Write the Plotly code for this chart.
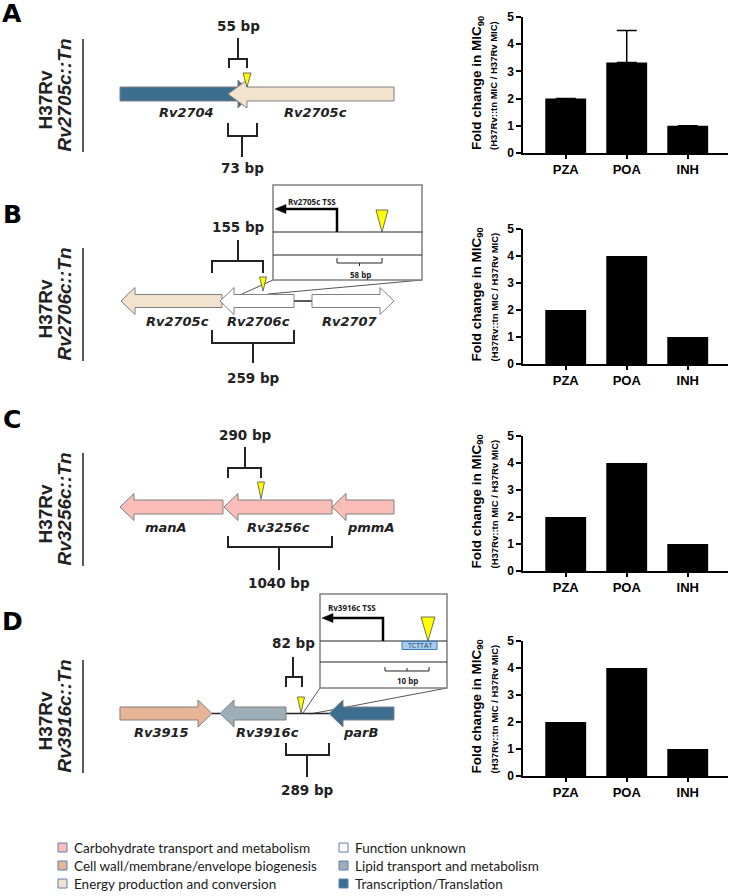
import plotly.graph_objects as go

W, H = 740, 896

# ---------------- data ----------------
drugs = ["PZA", "POA", "INH"]
fold_A = [2, 3.33, 1]
fold_A_err_plus = [None, 1.17, None]
fold_B = [2, 4, 1]
fold_C = [2, 4, 1]
fold_D = [2, 4, 1]
y_tick_vals = [0, 1, 2, 3, 4, 5]

cog_names = ["Carbohydrate transport and metabolism",
             "Cell wall/membrane/envelope biogenesis",
             "Energy production and conversion",
             "Function unknown",
             "Lipid transport and metabolism",
             "Transcription/Translation"]
cog_colors = ["#FBBDB8", "#E6B497", "#F3E3CE", "#FFFFFF", "#9DAEB9", "#3C6F8F"]

panel_letters = ["A", "B", "C", "D"]
mutant_names = ["Rv2705c::Tn", "Rv2706c::Tn", "Rv3256c::Tn", "Rv3916c::Tn"]

# genes per panel: name, start px, end px, direction, COG index, label x
genes_A = [("Rv2704", 120, 251, 1, 5, 187), ("Rv2705c", 228, 394, -1, 2, 315)]
genes_B = [("Rv2705c", 121, 222, -1, 2, 177), ("Rv2706c", 220, 294, -1, 3, 258),
           ("Rv2707", 312, 394, 1, 3, 350)]
genes_C = [("manA", 120, 223, -1, 0, 166), ("Rv3256c", 224, 332, -1, 0, 278),
           ("pmmA", 332, 394, -1, 0, 370)]
genes_D = [("Rv3915", 120, 212, 1, 1, 161), ("Rv3916c", 220, 286, -1, 4, 267),
           ("parB", 329, 394, -1, 5, 360)]
bracket_top_labels = ["55 bp", "155 bp", "290 bp", "82 bp"]
bracket_bottom_labels = ["73 bp", "259 bp", "1040 bp", "289 bp"]

# ---------------- helpers ----------------
def X(x):
    return x / W

def Y(y):
    return 1 - y / H

def path(pts, close=True):
    s = "M " + " L ".join(f"{X(a):.5f},{Y(b):.5f}" for a, b in pts)
    return s + (" Z" if close else "")

shapes = []
annotations = []

def add_path(pts, fill=None, color="#222", width=1.0, close=True):
    d = dict(type="path", xref="paper", yref="paper", path=path(pts, close),
             line=dict(color=color, width=width))
    d["fillcolor"] = fill if fill is not None else "rgba(0,0,0,0)"
    shapes.append(d)

def add_line(x0, y0, x1, y1, color="#222", width=1.0):
    shapes.append(dict(type="line", xref="paper", yref="paper",
                       x0=X(x0), y0=Y(y0), x1=X(x1), y1=Y(y1),
                       line=dict(color=color, width=width)))

def add_rect(x0, y0, x1, y1, fill="white", color="#222", width=1.0):
    shapes.append(dict(type="rect", xref="paper", yref="paper",
                       x0=X(x0), y0=Y(y0), x1=X(x1), y1=Y(y1),
                       fillcolor=fill, line=dict(color=color, width=width)))

def add_text(x, y, text, size=12, family="DejaVu Sans", color="#222",
             angle=0, weight="bold", style="normal", xanchor="center"):
    annotations.append(dict(xref="paper", yref="paper", x=X(x), y=Y(y), text=text,
                            showarrow=False, xanchor=xanchor, yanchor="middle",
                            textangle=angle,
                            font=dict(size=size, family=family, color=color,
                                      weight=weight, style=style)))

def gene_arrow(x0, x1, yc, direction, fill, head=14, bh=7, hh=14):
    if direction < 0:
        b = x0 + head
        pts = [(x0, yc), (b, yc - hh), (b, yc - bh), (x1, yc - bh), (x1, yc + bh),
               (b, yc + bh), (b, yc + hh)]
    else:
        b = x1 - head
        pts = [(x1, yc), (b, yc - hh), (b, yc - bh), (x0, yc - bh), (x0, yc + bh),
               (b, yc + bh), (b, yc + hh)]
    add_path(pts, fill=fill, color="#7F7F7F", width=1)

def yellow(xc, ytop, ytip, w):
    add_path([(xc - w / 2, ytop), (xc + w / 2, ytop), (xc, ytip)], fill="#FFFF00",
             color="#4D4D4D", width=0.8)

def bracket_top(x1, x2, xs, y_stem_top, y_h, y_leg, label, label_y):
    add_path([(x1, y_leg), (x1, y_h), (x2, y_h), (x2, y_leg)], close=False, width=2)
    add_line(xs, y_stem_top, xs, y_h, width=2)
    add_text(xs, label_y, label, size=13.5)

def bracket_bottom(x1, x2, xs, y_leg, y_h, y_stem_bot, label, label_y):
    add_path([(x1, y_leg), (x1, y_h), (x2, y_h), (x2, y_leg)], close=False, width=2)
    add_line(xs, y_h, xs, y_stem_bot, width=2)
    add_text(xs, label_y, label, size=13.5)

# ---------------- left side: strain labels ----------------
letter_y = [13, 214, 419, 621]
vline_spans = [(39, 152), (248, 361), (453, 566), (660, 773)]
for i in range(4):
    add_text(12, letter_y[i], panel_letters[i], size=25, family="DejaVu Sans", color="black")
    a, b = vline_spans[i]
    c = (a + b) / 2
    add_line(83, a, 83, b, color="#222", width=1.5)
    add_text(45, c + 4, "H37Rv", size=19, family="Liberation Sans", color="#222", angle=-90)
    add_text(64, c, mutant_names[i], size=19, family="Liberation Sans", color="#222",
             angle=-90, style="italic")

# ---------------- panel A diagram ----------------
ycA = 94
for (name, x0, x1, d, cog, lx) in genes_A:
    gene_arrow(x0, x1, ycA, d, cog_colors[cog], head=(13 if d > 0 else 19))
    add_text(lx, 113, name, size=13, style="italic")
yellow(247, 73, 87, 8)
bracket_top(229, 247, 238, 38, 59, 68, bracket_top_labels[0], 26)
bracket_bottom(228, 257, 242, 123, 136, 157, bracket_bottom_labels[0], 168)

# ---------------- panel B diagram ----------------
ycB = 301
add_line(242, 294, 273, 280, color="#555", width=1)
add_line(268, 294, 422, 280, color="#555", width=1)
add_line(294, ycB, 312, ycB, color="#222", width=1.5)
for (name, x0, x1, d, cog, lx) in genes_B:
    gene_arrow(x0, x1, ycB, d, cog_colors[cog], hh=13.5, bh=6.5)
    add_text(lx, 321, name, size=13, style="italic")
yellow(263, 277, 291, 7)
bracket_top(212, 263, 238, 240, 261, 273, bracket_top_labels[1], 227)
bracket_bottom(212, 294, 253, 330, 343, 363, bracket_bottom_labels[1], 378)
# inset B
add_rect(273, 185, 422, 280, fill="white", color="#808080", width=1.5)
add_line(273, 232, 422, 232, color="#222", width=1)
add_line(273, 255, 422, 255, color="#222", width=1)
add_path([(337, 232), (337, 209), (284, 209)], close=False, color="black", width=2.5)
add_path([(275, 209), (286, 204.5), (286, 213.5)], fill="black", color="black", width=0.5)
add_text(312, 201, "Rv2705c TSS", size=8, family="Open Sans", color="#222")
yellow(382, 210, 232, 12)
add_path([(337, 258), (337, 263), (382, 263), (382, 258)], close=False, width=1)
add_line(359.5, 263, 359.5, 266, width=1)
add_text(360, 274, "58 bp", size=8, family="Open Sans", color="#222")

# ---------------- panel C diagram ----------------
ycC = 507
for (name, x0, x1, d, cog, lx) in genes_C:
    gene_arrow(x0, x1, ycC, d, cog_colors[cog], hh=13.5)
    add_text(lx, 527, name, size=13, style="italic")
yellow(261, 482, 499, 7)
bracket_top(228, 261, 245, 447, 468, 478, bracket_top_labels[2], 435)
bracket_bottom(228, 332, 279, 536, 547, 570, bracket_bottom_labels[2], 583)

# ---------------- panel D diagram ----------------
ycD = 713.5
add_line(303, 713, 320, 688, color="#555", width=1)
add_line(310, 714, 447, 688, color="#555", width=1)
add_line(212, ycD, 220, ycD, color="#222", width=1.5)
add_line(286, ycD, 329, ycD, color="#222", width=1.5)
for (name, x0, x1, d, cog, lx) in genes_D:
    gene_arrow(x0, x1, ycD, d, cog_colors[cog], hh=13.5, bh=6.5)
    add_text(lx, 732, name, size=13, style="italic")
yellow(301, 697, 713, 7)
bracket_top(286, 302, 293, 657, 677, 687, bracket_top_labels[3], 643)
bracket_bottom(286, 329, 307, 743, 755, 777, bracket_bottom_labels[3], 790)
# inset D
add_rect(320, 594, 447, 688, fill="white", color="#808080", width=1.5)
add_line(320, 641, 447, 641, color="#222", width=1)
add_line(320, 662, 447, 662, color="#222", width=1)
add_path([(383, 641), (383, 618), (331, 618)], close=False, color="black", width=2.5)
add_path([(322, 618), (333, 613.5), (333, 622.5)], fill="black", color="black", width=0.5)
add_text(352, 607, "Rv3916c TSS", size=8, family="Open Sans", color="#222")
shapes.append(dict(type="rect", xref="paper", yref="paper", x0=X(402), y0=Y(641.5),
                   x1=X(437), y1=Y(649.5), fillcolor="#A8CDEB",
                   line=dict(color="#3A7DBF", width=1)))
add_text(419.5, 645.5, "TCTTAT", size=7, family="Open Sans", color="#1F3F66", weight="normal")
yellow(428, 617, 641, 14)
add_path([(385, 667), (385, 671), (429, 671), (429, 667)], close=False, width=1)
add_line(407, 671, 407, 668, width=1)
add_text(407, 680, "10 bp", size=8, family="Open Sans", color="#222")

# ---------------- legend ----------------
leg_rows = [847.5, 865.5, 883.5]
for i, (nm, col) in enumerate(zip(cog_names, cog_colors)):
    colx = 58 if i < 3 else 339
    yy = leg_rows[i % 3]
    add_rect(colx, yy - 4.5, colx + 9, yy + 4.5, fill=col, color="#5E7FB5", width=1)
    add_text(colx + 14, yy + 0.5, nm, size=13.5, family="Lato", color="#1A1A1A",
             weight="normal", xanchor="left")

# ---------------- bar charts ----------------
fig = go.Figure()
zero_px = [153, 364, 571, 776]
five_px = [17, 229, 436, 641]
values = [fold_A, fold_B, fold_C, fold_D]
errors = [fold_A_err_plus, None, None, None]

layout_axes = {}
for i in range(4):
    xa = "x" if i == 0 else f"x{i+1}"
    ya = "y" if i == 0 else f"y{i+1}"
    bar = go.Bar(x=drugs, y=values[i], width=0.67, marker=dict(color="black", line=dict(width=0)),
                 xaxis=xa, yaxis=ya, showlegend=False, hoverinfo="skip")
    if errors[i] is not None:
        bar.error_y = dict(type="data", array=errors[i], arrayminus=[None, 0, None],
                           symmetric=False, color="black", thickness=1.5, width=10)
    fig.add_trace(bar)
    xname = "xaxis" if i == 0 else f"xaxis{i+1}"
    yname = "yaxis" if i == 0 else f"yaxis{i+1}"
    layout_axes[xname] = dict(domain=[523 / W, 728 / W], anchor=ya, range=[-0.7, 2.66],
                              showline=True, linecolor="black", linewidth=1.5,
                              ticks="outside", ticklen=4, tickwidth=1.5, tickcolor="black",
                              tickfont=dict(size=13, family="Liberation Sans", color="black",
                                            weight="bold"),
                              showgrid=False, zeroline=False, fixedrange=True,
                              automargin=False)
    layout_axes[yname] = dict(domain=[Y(zero_px[i]), Y(five_px[i])], anchor=xa, range=[0, 5],
                              tickvals=y_tick_vals,
                              showline=True, linecolor="black", linewidth=1.5,
                              ticks="outside", ticklen=5, tickwidth=1.5, tickcolor="black",
                              tickfont=dict(size=12, family="Liberation Sans", color="black",
                                            weight="bold"),
                              showgrid=False, zeroline=False, fixedrange=True,
                              automargin=False)
    yc = (zero_px[i] + five_px[i]) / 2
    add_text(477, yc - 2, "Fold change in MIC<sub>90</sub>", size=13.5,
             family="Liberation Sans", color="black", angle=-90)
    add_text(494, yc, "(H37Rv::tn MIC / H37Rv MIC)", size=9.5,
             family="Liberation Sans", color="black", angle=-90)

fig.update_layout(width=W, height=H,
                  margin=dict(l=0, r=0, t=0, b=0, pad=0, autoexpand=False),
                  paper_bgcolor="white", plot_bgcolor="white",
                  shapes=shapes, annotations=annotations, bargap=0.3, **layout_axes)

fig.write_html("out.html", config={"displayModeBar": False},
               post_script="document.body.style.margin='0px';document.body.style.overflow='hidden';")
